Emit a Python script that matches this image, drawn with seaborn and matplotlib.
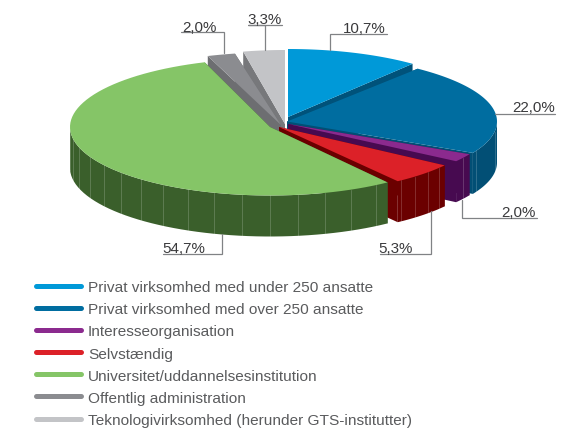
import numpy as np
import matplotlib
matplotlib.use("Agg")
import matplotlib.pyplot as plt
from matplotlib.lines import Line2D
import seaborn as sns

categories = ["Privat virksomhed med under 250 ansatte", "Privat virksomhed med over 250 ansatte",
              "Interesseorganisation", "Selvstændig", "Universitet/uddannelsesinstitution",
              "Offentlig administration", "Teknologivirksomhed (herunder GTS-institutter)"]
values = [10.7, 22.0, 2.0, 5.3, 54.7, 2.0, 3.3]
value_labels = ["10,7%", "22,0%", "2,0%", "5,3%", "54,7%", "2,0%", "3,3%"]

top_colors = ["#0099d8", "#006da0", "#8b2a8e", "#dc2128", "#85c567", "#8b8c90", "#c3c4c7"]
wall_colors = ["#00527a", "#024f75", "#470a50", "#6b0000", "#3a5f2b", "#6d6e71", "#77787b"]

# wedge geometry in px: centre x, centre y, radius x, radius y
cx = [288, 287, 288, 279, 270, 281, 285]
cy = [118, 122.5, 125, 128, 128, 126, 125]
rx = [200, 210, 205, 202, 200, 224, 203]
ry = [68, 67.5, 65, 67, 68.5, 73, 74]
depth = 41
rib_step = [0.2, 0.3, 0.126, 0.09, 0.14, 0.2, 0.2]

# leader lines: path and label position
leaders = [
    ([330, 330, 387], [51, 35, 35], 386, 33, "right"),
    ([495, 555], [115, 115], 555, 112, "right"),
    ([462, 462, 537], [201, 219, 219], 536, 217, "right"),
    ([431, 431, 380], [212, 255, 255], 378, 253, "left"),
    ([222, 222, 163], [235, 255, 255], 162, 253, "left"),
    ([224, 224, 181], [54, 33, 33], 182, 32, "left"),
    ([265, 265, 248, 282], [51, 26, 26, 26], 247, 24, "left"),
]

sns.set_style("white")
plt.rcParams["font.family"] = ["Liberation Sans", "DejaVu Sans"]

fig = plt.figure(figsize=(5.7, 4.35), dpi=100)
ax = fig.add_axes([0, 0, 1, 1])
ax.set_xlim(0, 570)
ax.set_ylim(435, 0)
ax.axis("off")

edges = np.cumsum([0] + values) / 100 * 2 * np.pi


def rim(i):
    t = np.linspace(edges[i], edges[i + 1], 80)
    return t, cx[i] + rx[i] * np.sin(t), cy[i] - ry[i] * np.cos(t)


def draw_walls(i, z):
    t, x, y = rim(i)
    # radial cut faces
    for k in (0, -1):
        ax.fill([cx[i], x[k], x[k], cx[i]], [cy[i], y[k], y[k] + depth, cy[i] + depth],
                color=wall_colors[i], lw=0, zorder=z)
    # outer wall, only where the rim faces the viewer
    front = np.cos(t) < 0.02
    if front.any():
        ax.fill(np.r_[x[front], x[front][::-1]], np.r_[y[front], y[front][::-1] + depth],
                color=wall_colors[i], lw=0, zorder=z)
        for a in np.arange(edges[i] + rib_step[i] / 2, edges[i + 1], rib_step[i]):
            if np.cos(a) < 0:
                xa = cx[i] + rx[i] * np.sin(a)
                ya = cy[i] - ry[i] * np.cos(a)
                ax.plot([xa, xa], [ya, ya + depth], color="white", alpha=0.18, lw=0.7, zorder=z)


def draw_top(i, z):
    t, x, y = rim(i)
    ax.fill(np.r_[cx[i], x], np.r_[cy[i], y], color=top_colors[i], lw=0, zorder=z)


# back to front; the red wedge's top goes on after the green one
z = 2
for i in [6, 5, 0, 1, 2]:
    draw_walls(i, z)
    draw_top(i, z + 0.5)
    z += 1
draw_walls(3, z)
draw_walls(4, z + 1)
draw_top(4, z + 1.5)
draw_top(3, z + 2)

for (lx, ly, tx, ty, ha), label in zip(leaders, value_labels):
    ax.plot(lx, ly, color="#808285", lw=0.9, zorder=20, solid_joinstyle="miter")
    ax.text(tx, ty, label, ha=ha, va="baseline", fontsize=10.9, color="#3a3a3c", zorder=21)

handles = [Line2D([], [], color=c, lw=3.6, solid_capstyle="round") for c in top_colors]
ax.legend(handles, categories, loc="upper left", bbox_to_anchor=(35.5 / 570, 1 - 281 / 435),
          bbox_transform=fig.transFigure, frameon=False, borderpad=0, borderaxespad=0,
          fontsize=11.1, labelcolor="#5a5b5d", handlelength=2.98, handletextpad=0.42,
          labelspacing=0.53)

fig.savefig("out.png", dpi=100)
